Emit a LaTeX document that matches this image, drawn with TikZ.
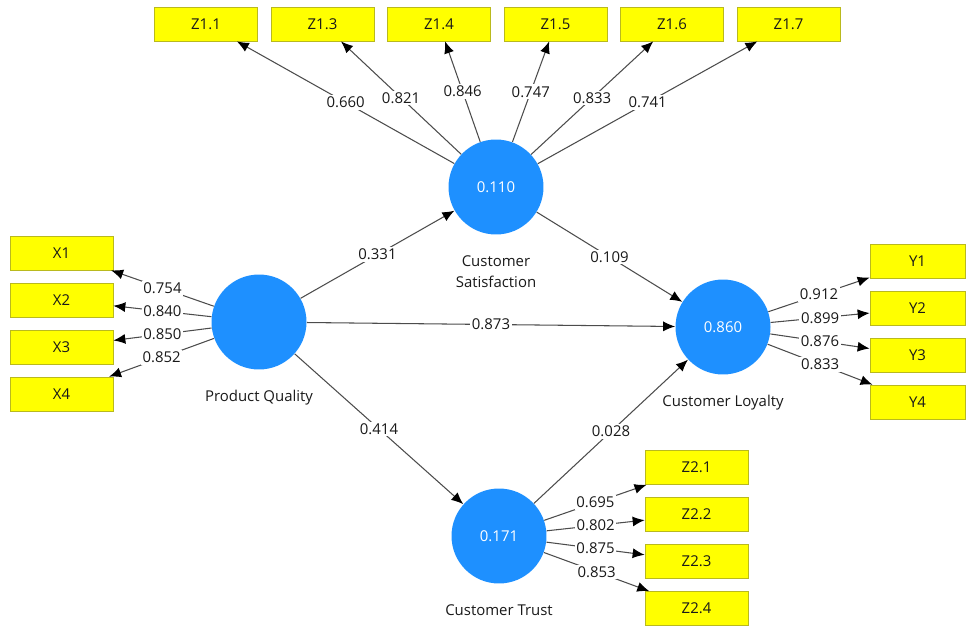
\documentclass[tikz,border=0pt]{standalone}
\usepackage{fontspec}
\setmainfont{Open Sans}
\usetikzlibrary{arrows.meta,positioning}

\definecolor{plsblue}{RGB}{30,144,255}
\definecolor{plsyellow}{RGB}{255,255,0}
\definecolor{plsedge}{RGB}{185,185,30}
\newcommand{\plsfont}{\fontsize{8.5}{12}\selectfont}

\begin{document}
\begin{tikzpicture}[
    x = 0.02cm, y = -0.02cm,
    latent/.style = {
        circle,
        fill = plsblue,
        minimum size = 1.9cm,
        inner sep = 0pt,
        text = white,
        font = \plsfont
    },
    indicator/.style = {
        rectangle,
        draw = plsedge,
        fill = plsyellow,
        minimum width = 2.06cm,
        minimum height = 0.68cm,
        inner sep = 0pt,
        text = black!90,
        font = \plsfont
    },
    ybox/.style = {indicator, minimum width = 1.9cm},
    lvlabel/.style = {font = \plsfont, align = center, text = black!90, inner sep = 0pt},
    arrow/.style = {-{Latex[length=2.4mm,width=2mm,color=black]}, draw = black!70, line width = 0.6pt},
    weight/.style = {fill = white, inner sep = 1pt, font = \plsfont, text = black!90}
]
\useasboundingbox (0,0) rectangle (966,628);

% Latent variables
\node[latent] (pq) at (259,322) {};
\node[latent] (cs) at (496,187) {0.110};
\node[latent] (cl) at (723,327) {0.860};
\node[latent] (ct) at (499,536) {0.171};

\node[lvlabel, below = 0.4cm of pq] (pqname) {Product Quality};
\node[lvlabel, below = 0.4cm of cs] (csname) {Customer\\Satisfaction};
\node[lvlabel, below = 0.4cm of cl] (clname) {Customer Loyalty};
\node[lvlabel, below = 0.4cm of ct] (ctname) {Customer Trust};

% Indicators
\node[indicator] (x1) at (61.5,253) {X1};
\node[indicator] (x2) at (61.5,300) {X2};
\node[indicator] (x3) at (61.5,347) {X3};
\node[indicator] (x4) at (61.5,394) {X4};

\node[indicator] (z11) at (206,24) {Z1.1};
\node[indicator] (z13) at (322.5,24) {Z1.3};
\node[indicator] (z14) at (439,24) {Z1.4};
\node[indicator] (z15) at (555.5,24) {Z1.5};
\node[indicator] (z16) at (672,24) {Z1.6};
\node[indicator] (z17) at (788.5,24) {Z1.7};

\node[ybox] (y1) at (917.5,261.5) {Y1};
\node[ybox] (y2) at (917.5,308.5) {Y2};
\node[ybox] (y3) at (917.5,355.5) {Y3};
\node[ybox] (y4) at (917.5,402) {Y4};

\node[indicator] (z21) at (696.5,467.5) {Z2.1};
\node[indicator] (z22) at (696.5,514.5) {Z2.2};
\node[indicator] (z23) at (696.5,561.5) {Z2.3};
\node[indicator] (z24) at (696.5,608.5) {Z2.4};

% Path coefficients
\draw[arrow] (pq) -- node[weight] {0.331} (cs);
\draw[arrow] (pq) -- node[weight] {0.873} (cl);
\draw[arrow] (pq) -- node[weight] {0.414} (ct);
\draw[arrow] (cs) -- node[weight] {0.109} (cl);
\draw[arrow] (ct) -- node[weight] {0.028} (cl);

% Outer loadings
\draw[arrow] (pq) -- node[weight] {0.754} (x1);
\draw[arrow] (pq) -- node[weight] {0.840} (x2);
\draw[arrow] (pq) -- node[weight] {0.850} (x3);
\draw[arrow] (pq) -- node[weight] {0.852} (x4);

\draw[arrow] (cs) -- node[weight] {0.660} (z11);
\draw[arrow] (cs) -- node[weight] {0.821} (z13);
\draw[arrow] (cs) -- node[weight] {0.846} (z14);
\draw[arrow] (cs) -- node[weight] {0.747} (z15);
\draw[arrow] (cs) -- node[weight] {0.833} (z16);
\draw[arrow] (cs) -- node[weight] {0.741} (z17);

\draw[arrow] (cl) -- node[weight] {0.912} (y1);
\draw[arrow] (cl) -- node[weight] {0.899} (y2);
\draw[arrow] (cl) -- node[weight] {0.876} (y3);
\draw[arrow] (cl) -- node[weight] {0.833} (y4);

\draw[arrow] (ct) -- node[weight] {0.695} (z21);
\draw[arrow] (ct) -- node[weight] {0.802} (z22);
\draw[arrow] (ct) -- node[weight] {0.875} (z23);
\draw[arrow] (ct) -- node[weight] {0.853} (z24);

\end{tikzpicture}
\end{document}
